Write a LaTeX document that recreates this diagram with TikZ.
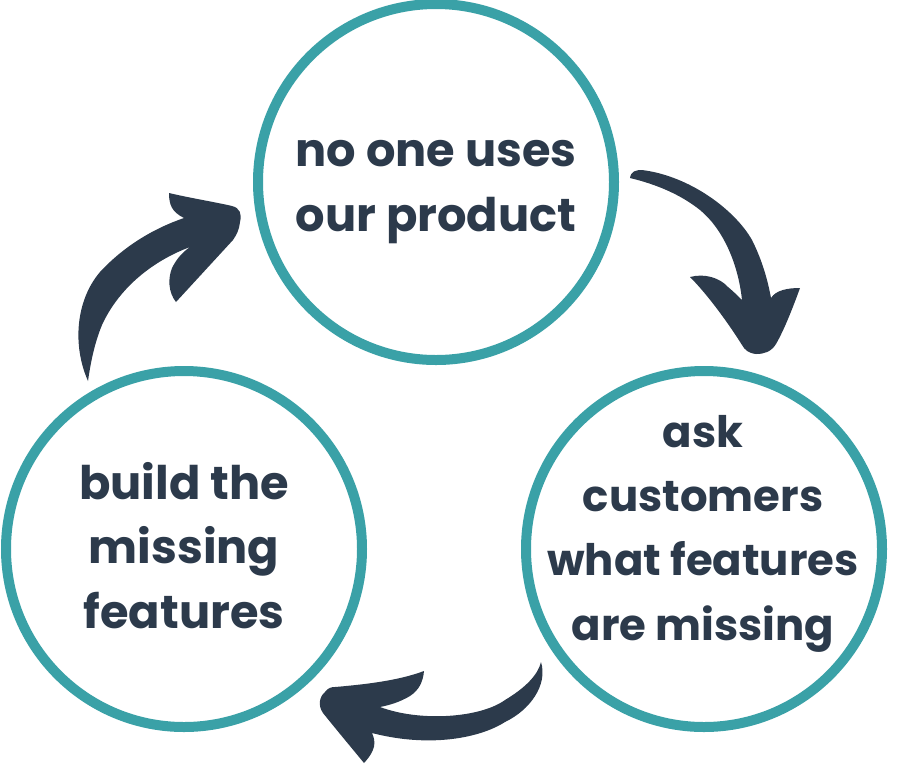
\documentclass[tikz,border=0pt]{standalone}
\usepackage{fontspec}
\setmainfont{Poppins}
\begin{document}
\begin{tikzpicture}[x=1pt,y=-1pt]
\definecolor{teal1}{HTML}{3AA1A7}
\definecolor{navy1}{HTML}{2C3A4B}
\tikzset{
  ring/.style={circle,draw=teal1,line width=10pt,minimum size=356pt,inner sep=0pt},
  label1/.style={text=navy1,font=\fontsize{46.3}{64.5}\selectfont\bfseries,align=center,anchor=base,inner sep=0pt},
  label2/.style={label1,font=\fontsize{43.4}{64.3}\selectfont\bfseries},
  arrowfill/.style={fill=navy1,draw=none}
}
\useasboundingbox (0,0) rectangle (899,772);
\node[ring] (top) at (436,182) {};
\node[ring] (left) at (184,549) {};
\node[ring] (right) at (704,549) {};
\node[label1] (ttop) at (436,231) {no one uses\\our product};
\node[label1] (tleft) at (184,628) {build the\\missing\\features};
\node[label2] (tright) at (703,640) {ask\\customers\\what features\\are missing};
% arrow left -> top
\fill[arrowfill] (88,381) .. controls (72,345) and (76,300) .. (100,272)
  .. controls (125,245) and (155,228) .. (184,218)
  .. controls (172,212) and (169,205) .. (169,193)
  .. controls (190,198) and (215,202) .. (232,206)
  .. controls (240,208) and (242,214) .. (240,222)
  .. controls (239,230) and (237,234) .. (233,240)
  -- (176,302)
  .. controls (168,292) and (168,278) .. (172,268)
  .. controls (177,258) and (183,252) .. (190,247)
  .. controls (150,262) and (118,290) .. (102,325)
  .. controls (95,342) and (91,360) .. (88,381) -- cycle;
% arrow top -> right
\fill[arrowfill] (630,178) .. controls (631,171) and (636,170) .. (642,170)
  .. controls (690,176) and (735,210) .. (752,240)
  .. controls (763,262) and (768,282) .. (771,298)
  .. controls (776,290) and (788,288) .. (800,288)
  .. controls (792,310) and (784,330) .. (776,344)
  .. controls (771,352) and (764,354) .. (756,354)
  .. controls (748,353) and (745,350) .. (742,345)
  .. controls (725,318) and (705,292) .. (690,277)
  .. controls (705,273) and (720,278) .. (728,287)
  .. controls (734,292) and (739,297) .. (742,300)
  .. controls (738,262) and (722,228) .. (700,210)
  .. controls (680,194) and (655,184) .. (630,178) -- cycle;
% arrow right -> left
\fill[arrowfill] (541,662) .. controls (548,685) and (530,710) .. (505,722)
  .. controls (480,738) and (430,748) .. (372,733)
  .. controls (376,742) and (376,750) .. (364,763)
  .. controls (350,746) and (335,728) .. (323,713)
  .. controls (318,706) and (319,697) .. (325,692)
  .. controls (328,688) and (331,687) .. (335,687)
  .. controls (370,684) and (400,680) .. (424,671)
  .. controls (423,682) and (419,690) .. (410,696)
  .. controls (400,702) and (390,705) .. (380,707)
  .. controls (420,722) and (480,718) .. (505,700)
  .. controls (525,688) and (538,675) .. (541,662) -- cycle;
\end{tikzpicture}
\end{document}
